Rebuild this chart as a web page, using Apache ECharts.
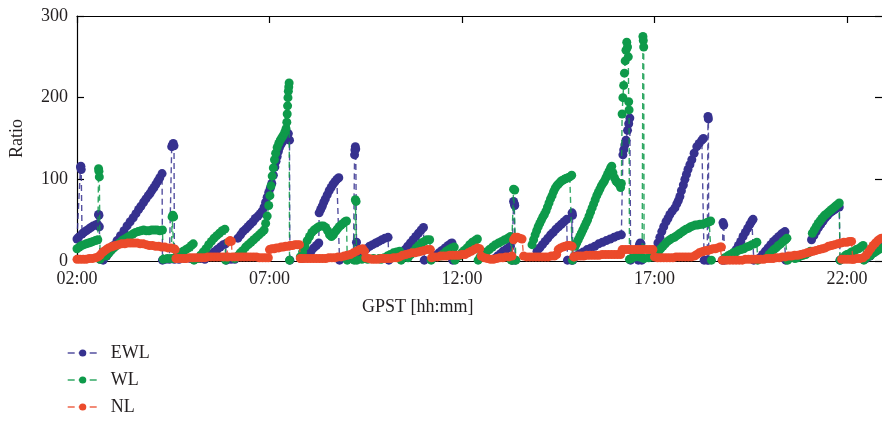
<!DOCTYPE html>
<html>
<head>
<meta charset="utf-8">
<script src="https://cdn.jsdelivr.net/npm/echarts@6/dist/echarts.min.js"></script>
<style>
html,body{margin:0;padding:0;background:#fff;}
#chart{width:882px;height:421px;}
</style>
</head>
<body>
<div id="chart"></div>
<script>
// ---- tick labels ----
const xTickValues = [2, 7, 12, 17, 22];
const xTickLabels = ['02:00', '07:00', '12:00', '17:00', '22:00'];
const seriesNames = ['EWL', 'WL', 'NL'];

// ---- EWL (hour, ratio) segments ----
const ewl = [
  [[2.0,27],[2.04,29],[2.09,115],[2.1,116],[2.11,112],[2.13,33],[2.18,35],[2.24,37],[2.3,39],[2.36,41],[2.42,43],[2.48,44],[2.53,45],[2.56,57],[2.57,56],[2.58,42],[2.6,2]],
  [[2.68,1],[2.77,6],[2.86,12],[2.95,19],[3.04,25],[3.13,31],[3.22,37],[3.3,43],[3.38,48],[3.46,53],[3.53,58],[3.6,63],[3.66,67],[3.73,72],[3.79,76],[3.85,80],[3.9,83],[3.95,87],[4.0,90],[4.05,94],[4.1,98],[4.15,102],[4.21,107],[4.22,1]],
  [[4.3,2],[4.4,2],[4.46,140],[4.48,142],[4.5,144],[4.52,141],[4.53,2],[4.65,2],[4.8,3],[4.95,3],[5.1,3],[5.2,3]],
  [[5.32,2],[5.4,5],[5.48,8],[5.56,11],[5.64,14],[5.72,17],[5.8,20],[5.86,21],[5.88,1],[6.0,2],[6.1,2]],
  [[6.18,28],[6.25,32],[6.31,36],[6.38,39],[6.44,42],[6.5,45],[6.57,48],[6.63,52],[6.7,55],[6.76,58],[6.81,61],[6.86,66],[6.9,72],[6.94,78],[6.98,84],[7.02,89],[7.06,95],[7.1,105],[7.14,115],[7.17,122],[7.2,128],[7.23,134],[7.26,139],[7.3,143],[7.34,146],[7.38,149],[7.42,152],[7.46,154],[7.49,156],[7.52,148],[7.53,1]],
  [[7.84,3],[7.92,6],[8.0,9],[8.08,12],[8.15,16],[8.22,19],[8.28,22],[8.29,59],[8.33,63],[8.37,67],[8.41,72],[8.45,76],[8.5,81],[8.55,86],[8.6,90],[8.65,94],[8.7,97],[8.75,100],[8.8,102],[8.82,1]],
  [[9.18,2],[9.21,130],[9.22,136],[9.23,140],[9.24,137],[9.26,23],[9.28,8],[9.36,10],[9.44,13],[9.52,15],[9.6,18],[9.68,20],[9.76,22],[9.84,24],[9.92,26],[10.0,28],[10.08,29],[10.1,1]],
  [[10.45,10],[10.52,14],[10.59,18],[10.66,22],[10.73,26],[10.8,30],[10.87,34],[10.94,38],[11.0,41],[11.02,1]],
  [[11.25,4],[11.32,7],[11.4,10],[11.48,13],[11.56,16],[11.64,19],[11.7,21],[11.74,22],[11.76,1]],
  [[12.85,3],[12.92,6],[13.0,9],[13.07,12],[13.14,14],[13.2,16],[13.26,18],[13.3,1],[13.34,73],[13.36,70],[13.37,68],[13.38,1]],
  [[13.95,12],[14.02,16],[14.09,20],[14.16,24],[14.23,28],[14.3,32],[14.37,35],[14.44,39],[14.51,42],[14.58,45],[14.65,48],[14.72,51],[14.74,1],[14.84,1],[14.86,59],[14.87,56],[14.88,1]],
  [[14.95,6],[15.05,9],[15.15,11],[15.25,14],[15.35,16],[15.45,18],[15.55,21],[15.65,23],[15.75,25],[15.85,27],[15.95,29],[16.05,31],[16.14,32],[16.18,130],[16.2,136],[16.23,142],[16.26,148],[16.3,160],[16.33,168],[16.36,175],[16.38,1]],
  [[16.58,1],[16.61,20],[16.63,22],[16.65,21],[16.67,1]],
  [[17.01,5],[17.05,14],[17.09,22],[17.14,29],[17.19,36],[17.24,42],[17.3,48],[17.35,52],[17.4,57],[17.46,61],[17.53,65],[17.58,70],[17.62,74],[17.66,79],[17.7,86],[17.75,93],[17.79,100],[17.83,106],[17.87,112],[17.92,118],[17.97,124],[18.03,132],[18.1,140],[18.16,144],[18.23,148],[18.27,150],[18.29,1],[18.37,1],[18.39,177],[18.4,174],[18.41,1]],
  [[18.76,1],[18.78,47],[18.8,44],[18.82,1]],
  [[19.0,4],[19.06,9],[19.12,14],[19.18,19],[19.24,24],[19.3,30],[19.36,35],[19.42,40],[19.48,45],[19.53,49],[19.56,51],[19.58,1]],
  [[19.74,4],[19.81,8],[19.88,12],[19.95,16],[20.02,20],[20.09,24],[20.16,27],[20.23,30],[20.3,33],[20.36,35],[20.39,36],[20.41,1]],
  [[21.08,26],[21.14,31],[21.2,36],[21.26,41],[21.32,45],[21.38,49],[21.44,53],[21.5,56],[21.56,59],[21.62,61],[21.68,63],[21.74,65],[21.8,66],[21.82,1]],
  [[22.5,3],[22.6,6],[22.7,10],[22.8,14],[22.9,18]]
];

// ---- WL segments ----
const wl = [
  [[2.0,15],[2.06,17],[2.12,19],[2.18,20],[2.24,21],[2.3,22],[2.36,23],[2.42,24],[2.48,25],[2.54,26],[2.56,113],[2.57,110],[2.58,103],[2.6,2]],
  [[2.75,6],[2.82,9],[2.89,13],[2.96,16],[3.03,19],[3.1,22],[3.17,25],[3.24,27],[3.31,29],[3.38,31],[3.45,33],[3.52,35],[3.59,36],[3.66,37],[3.73,38],[3.8,37],[3.87,37],[3.94,38],[4.01,38],[4.08,38],[4.15,37],[4.22,38],[4.24,2],[4.35,3],[4.45,3],[4.47,54],[4.49,56],[4.51,54],[4.53,3]],
  [[4.55,4],[4.62,7],[4.69,10],[4.76,12],[4.83,14],[4.9,16],[4.97,19],[5.02,21],[5.04,1]],
  [[5.14,3],[5.21,7],[5.28,11],[5.35,15],[5.42,20],[5.49,24],[5.56,28],[5.63,31],[5.7,34],[5.77,37],[5.84,39],[5.86,1]],
  [[6.1,3],[6.17,6],[6.24,10],[6.31,13],[6.38,17],[6.45,20],[6.52,23],[6.59,26],[6.66,29],[6.73,32],[6.8,35],[6.86,38],[6.9,46],[6.94,55],[6.98,68],[7.01,80],[7.04,92],[7.07,104],[7.1,114],[7.13,124],[7.16,132],[7.2,139],[7.24,144],[7.28,148],[7.32,151],[7.36,154],[7.4,158],[7.43,162],[7.45,170],[7.46,180],[7.47,190],[7.48,200],[7.49,208],[7.5,213],[7.51,218],[7.52,1]],
  [[7.8,5],[7.86,11],[7.92,18],[7.98,25],[8.04,30],[8.1,35],[8.16,38],[8.22,40],[8.28,42],[8.34,43],[8.4,43],[8.46,41],[8.51,37],[8.56,32],[8.61,30],[8.66,32],[8.71,36],[8.76,39],[8.81,42],[8.86,44],[8.91,46],[8.96,48],[9.0,49],[9.02,1]],
  [[9.2,1],[9.23,75],[9.25,73],[9.27,1],[9.4,2],[9.55,2],[9.7,3],[9.85,3]],
  [[9.9,2],[9.98,4],[10.06,6],[10.14,8],[10.22,10],[10.3,11],[10.38,12],[10.42,1]],
  [[10.6,4],[10.67,8],[10.74,12],[10.81,16],[10.88,19],[10.95,22],[11.02,24],[11.09,26],[11.16,26],[11.2,1]],
  [[11.45,6],[11.52,9],[11.59,12],[11.66,14],[11.73,16],[11.8,17],[11.82,1]],
  [[11.92,6],[11.99,10],[12.06,13],[12.13,16],[12.2,20],[12.27,23],[12.34,25],[12.4,27],[12.42,1]],
  [[12.47,5],[12.55,8],[12.63,11],[12.71,14],[12.79,17],[12.87,20],[12.95,22],[13.03,24],[13.11,26],[13.19,28],[13.26,30],[13.28,1],[13.32,1],[13.34,88],[13.37,87],[13.4,1]],
  [[13.82,20],[13.86,26],[13.9,32],[13.94,37],[13.98,42],[14.02,46],[14.06,50],[14.1,54],[14.14,57],[14.18,61],[14.22,66],[14.26,71],[14.3,76],[14.34,80],[14.38,85],[14.42,89],[14.46,92],[14.5,94],[14.54,96],[14.58,98],[14.62,99],[14.66,100],[14.7,101],[14.75,102],[14.8,103],[14.85,105],[14.87,1]],
  [[14.94,18],[14.98,22],[15.02,26],[15.06,30],[15.1,34],[15.14,38],[15.18,42],[15.22,46],[15.26,50],[15.3,55],[15.34,60],[15.38,65],[15.42,70],[15.46,75],[15.5,80],[15.54,84],[15.58,88],[15.62,92],[15.66,95],[15.7,98],[15.74,102],[15.78,106],[15.82,110],[15.86,114],[15.89,116],[15.92,108],[15.96,102],[16.0,98],[16.04,96],[16.08,94],[16.12,90],[16.14,95],[16.16,180],[16.18,200],[16.2,215],[16.22,230],[16.24,245],[16.26,258],[16.28,268],[16.3,262],[16.32,250],[16.33,195],[16.34,185],[16.35,2]],
  [[16.4,3],[16.5,5],[16.6,5],[16.68,4],[16.7,275],[16.71,270],[16.72,262],[16.73,3],[16.85,4],[16.95,5]],
  [[17.04,6],[17.1,11],[17.16,15],[17.22,18],[17.28,21],[17.34,24],[17.4,26],[17.46,28],[17.52,29],[17.58,31],[17.64,33],[17.7,35],[17.76,37],[17.82,39],[17.88,40],[17.94,42],[18.0,43],[18.06,44],[18.12,44],[18.18,45],[18.24,45],[18.3,46],[18.36,47],[18.42,48],[18.46,49],[18.48,1]],
  [[18.83,4],[18.9,6],[18.97,8],[19.04,10],[19.11,11],[19.18,13],[19.25,14],[19.32,15],[19.39,17],[19.46,18],[19.53,20],[19.6,21],[19.66,23],[19.68,1]],
  [[19.92,4],[19.98,8],[20.04,11],[20.1,14],[20.16,16],[20.22,19],[20.28,21],[20.34,24],[20.4,26],[20.44,28],[20.46,1]],
  [[20.65,3],[20.72,4],[20.79,6],[20.86,7],[20.93,8],[21.0,10],[21.05,12]],
  [[21.1,34],[21.15,38],[21.2,42],[21.25,46],[21.3,49],[21.35,52],[21.4,55],[21.45,57],[21.5,59],[21.55,61],[21.6,63],[21.65,65],[21.7,67],[21.75,69],[21.8,71],[21.82,1]],
  [[21.88,3],[21.94,6],[22.0,8],[22.06,9],[22.12,11],[22.18,12],[22.24,14],[22.3,15],[22.36,17],[22.42,19],[22.44,1]],
  [[22.55,5],[22.62,7],[22.69,10],[22.76,12],[22.83,14],[22.9,16]]
];

// ---- NL segments ----
const nl = [
  [[2.0,2],[2.08,2],[2.16,2],[2.24,2],[2.32,3],[2.4,3],[2.48,4],[2.55,5],[2.6,7],[2.65,10],[2.7,12],[2.76,14],[2.82,16],[2.88,17],[2.94,18],[3.0,19],[3.08,20],[3.16,21],[3.24,21],[3.32,22],[3.4,22],[3.48,22],[3.56,22],[3.64,21],[3.72,21],[3.8,20],[3.88,19],[3.96,19],[4.04,18],[4.12,18],[4.2,17],[4.28,17],[4.36,16],[4.44,16],[4.52,15],[4.55,14],[4.57,3]],
  [[4.6,3],[4.68,3],[4.76,3],[4.84,3],[4.92,4],[5.0,4],[5.08,4],[5.16,4],[5.24,4],[5.32,4],[5.4,5],[5.48,5],[5.56,5],[5.64,5],[5.72,5],[5.8,5],[5.88,5],[5.93,5],[5.95,24],[5.98,25],[6.01,24],[6.03,5],[6.1,5],[6.18,5],[6.26,5],[6.34,5],[6.42,5],[6.5,5],[6.58,5],[6.66,5],[6.74,4],[6.82,4],[6.9,4],[6.97,4],[7.0,14],[7.06,15],[7.12,15],[7.18,16],[7.24,16],[7.3,17],[7.36,17],[7.42,18],[7.48,18],[7.54,19],[7.6,19],[7.66,20],[7.72,20],[7.78,20],[7.8,3]],
  [[7.82,3],[7.9,3],[7.98,3],[8.06,3],[8.14,3],[8.22,3],[8.3,3],[8.38,3],[8.46,3],[8.54,4],[8.62,4],[8.7,4],[8.78,5],[8.86,5],[8.94,6],[9.02,7],[9.1,8],[9.18,10],[9.26,12],[9.34,14],[9.42,15],[9.47,12],[9.5,4],[9.58,3],[9.66,2],[9.74,2],[9.82,2],[9.9,3],[9.98,3],[10.06,3],[10.14,3],[10.22,4],[10.3,4],[10.38,5],[10.46,7],[10.54,8],[10.62,9],[10.7,10],[10.78,10],[10.86,11],[10.94,12],[11.02,13],[11.1,14],[11.18,14],[11.21,4],[11.28,5],[11.36,5],[11.44,6],[11.52,6],[11.6,6],[11.68,7],[11.76,7],[11.84,7],[11.92,7],[12.0,8],[12.08,8],[12.16,10],[12.24,12],[12.32,14],[12.4,16],[12.46,15],[12.5,6],[12.58,4],[12.66,3],[12.74,2],[12.82,2],[12.9,3],[12.98,4],[13.06,4],[13.14,5],[13.22,5],[13.3,6],[13.34,26],[13.38,29],[13.44,29],[13.5,28],[13.56,27],[13.6,6],[13.68,5],[13.76,5],[13.84,5],[13.92,5],[14.0,5],[14.08,5],[14.16,5],[14.24,5],[14.32,6],[14.4,6],[14.46,8],[14.5,14],[14.56,16],[14.62,17],[14.68,18],[14.74,19],[14.8,19],[14.86,18],[14.9,5]],
  [[14.92,5],[15.0,6],[15.08,6],[15.16,6],[15.24,7],[15.32,7],[15.4,7],[15.48,7],[15.56,7],[15.64,8],[15.72,8],[15.8,8],[15.88,8],[15.96,8],[16.04,8],[16.12,8],[16.16,14],[16.24,14],[16.32,14],[16.4,14],[16.48,14],[16.56,14],[16.64,14],[16.72,14],[16.8,14],[16.88,14],[16.96,14],[17.0,5],[17.08,4],[17.16,4],[17.24,4],[17.32,4],[17.4,4],[17.48,4],[17.56,5],[17.64,5],[17.72,5],[17.8,5],[17.88,5],[17.96,5],[18.04,6],[18.1,8],[18.16,10],[18.22,11],[18.28,12],[18.34,13],[18.4,13],[18.46,14],[18.52,15],[18.58,15],[18.64,16],[18.7,17],[18.74,17],[18.76,1]],
  [[18.8,1],[18.88,1],[18.96,1],[19.04,1],[19.12,1],[19.2,1],[19.28,1],[19.36,2],[19.44,2],[19.52,2],[19.6,2],[19.68,2],[19.76,2],[19.84,2],[19.92,3],[20.0,3],[20.08,3],[20.16,4],[20.24,4],[20.32,5],[20.4,5],[20.48,6],[20.56,6],[20.64,7],[20.72,7],[20.8,8],[20.88,9],[20.96,10],[21.04,11],[21.12,12],[21.2,13],[21.28,14],[21.36,15],[21.44,16],[21.52,18],[21.6,19],[21.68,20],[21.76,21],[21.84,22],[21.92,23],[22.0,23],[22.06,24],[22.12,24],[22.15,2]],
  [[21.86,2],[21.94,2],[22.02,2],[22.1,2],[22.18,2],[22.26,3],[22.34,3],[22.42,4],[22.5,7],[22.56,11],[22.62,15],[22.68,19],[22.74,22],[22.8,25],[22.86,27],[22.9,28]]
];

const colors = { EWL: '#36318f', WL: '#0e9a4a', NL: '#eb4a2b' };
const FONT = '"Liberation Serif", "DejaVu Serif", serif';
const TXT = '#231f20';

function makeSeries(name, segs, z) {
  return segs.map(function (d) {
    return {
      type: 'line', name: name, data: d,
      symbol: 'circle', symbolSize: 9, showSymbol: true, showAllSymbol: true,
      itemStyle: { color: colors[name] },
      lineStyle: { color: colors[name], width: 1.4, type: [6, 4], opacity: 0.85 },
      emphasis: { disabled: true },
      silent: true, animation: false, z: z, clip: true
    };
  });
}

const series = [].concat(
  makeSeries('EWL', ewl, 2),
  makeSeries('WL', wl, 3),
  makeSeries('NL', nl, 4)
);

const chart = echarts.init(document.getElementById('chart'), null, { renderer: 'canvas' });
const axisLineStyle = { color: '#000', width: 1.2 };
chart.setOption({
  backgroundColor: '#fff',
  animation: false,
  textStyle: { fontFamily: FONT },
  grid: { left: 77, right: 0, top: 16, height: 245, containLabel: false },
  xAxis: [
    {
      type: 'value', min: 2, max: 22.91, position: 'bottom',
      axisLine: { show: true, lineStyle: axisLineStyle },
      axisTick: { show: true, inside: true, length: 7, lineStyle: axisLineStyle, customValues: xTickValues },
      axisLabel: {
        show: true, customValues: xTickValues, margin: 9,
        fontSize: 18, fontFamily: FONT, color: TXT,
        formatter: function (v) { const i = xTickValues.indexOf(v); return i >= 0 ? xTickLabels[i] : ''; }
      },
      splitLine: { show: false }
    },
    {
      type: 'value', min: 2, max: 22.91, position: 'top',
      axisLine: { show: true, onZero: false, lineStyle: axisLineStyle },
      axisTick: { show: true, inside: true, length: 7, lineStyle: axisLineStyle, customValues: xTickValues },
      axisLabel: { show: false },
      splitLine: { show: false }
    }
  ],
  yAxis: [
    {
      type: 'value', min: 0, max: 300, interval: 100, position: 'left',
      name: 'Ratio', nameLocation: 'middle', nameGap: 51, nameRotate: 90,
      nameTextStyle: { fontSize: 18, fontFamily: FONT, color: TXT },
      axisLine: { show: true, lineStyle: axisLineStyle },
      axisTick: { show: true, inside: true, length: 7, lineStyle: axisLineStyle },
      axisLabel: { margin: 9, fontSize: 18, fontFamily: FONT, color: TXT },
      splitLine: { show: false }
    },
    {
      type: 'value', min: 0, max: 300, interval: 100, position: 'right',
      axisLine: { show: false, onZero: false, lineStyle: axisLineStyle },
      axisTick: { show: true, inside: true, length: 7, lineStyle: axisLineStyle },
      axisLabel: { show: false },
      splitLine: { show: false }
    }
  ],
  legend: {
    data: seriesNames, orient: 'vertical', left: 67, top: 344, height: 100, padding: 0,
    itemWidth: 30, itemHeight: 9, itemGap: 9,
    selectedMode: false,
    lineStyle: { type: [7, 4], width: 1.4 },
    textStyle: { fontSize: 18, fontFamily: FONT, color: TXT, lineHeight: 18, padding: [0, 0, 0, 8] }
  },
  graphic: [
    { type: 'text', left: 362, top: 298, style: { text: 'GPST [hh:mm]', fontSize: 18, fontFamily: FONT, fill: TXT } }
  ],
  series: series
});
</script>
</body>
</html>
